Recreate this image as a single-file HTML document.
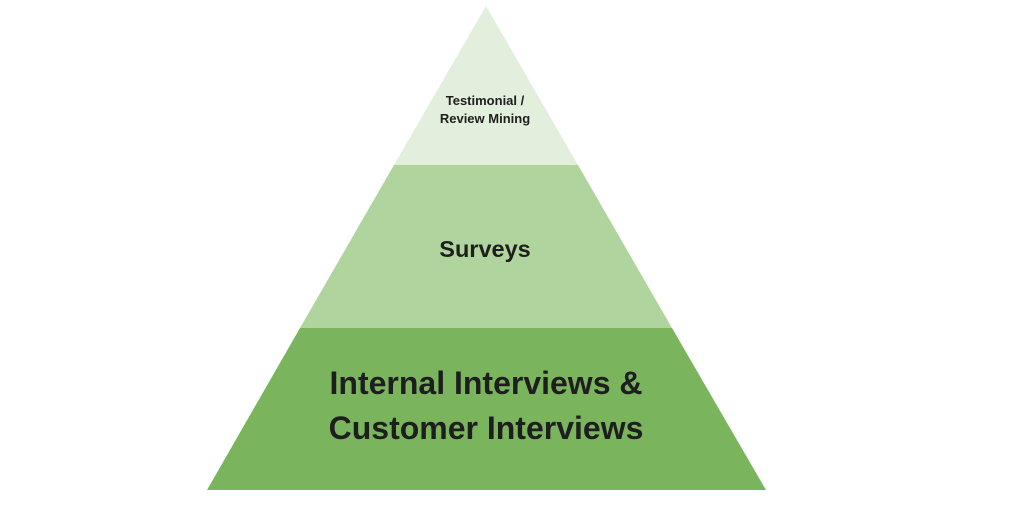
<!DOCTYPE html>
<html><head><style>
body{margin:0;width:1024px;height:512px;background:#fff;overflow:hidden}
svg text{font-family:"Liberation Sans",sans-serif;font-weight:bold;fill:#1e1e1e;text-anchor:middle}
</style></head><body>
<svg width="1024" height="512" viewBox="0 0 1024 512">
<polygon points="486,6 578,165 394,165" fill="#e2efdc"/>
<polygon points="394,165 578,165 672,328 300,328" fill="#b0d49d"/>
<polygon points="300,328 672,328 766,490 207,490" fill="#7ab55d"/>
<text x="485" y="105" font-size="13">Testimonial /</text>
<text x="485" y="123" font-size="13">Review Mining</text>
<text x="485" y="257" font-size="23.5">Surveys</text>
<text x="486" y="394" font-size="32">Internal Interviews &amp;</text>
<text x="486" y="439" font-size="32">Customer Interviews</text>
</svg>
</body></html>
